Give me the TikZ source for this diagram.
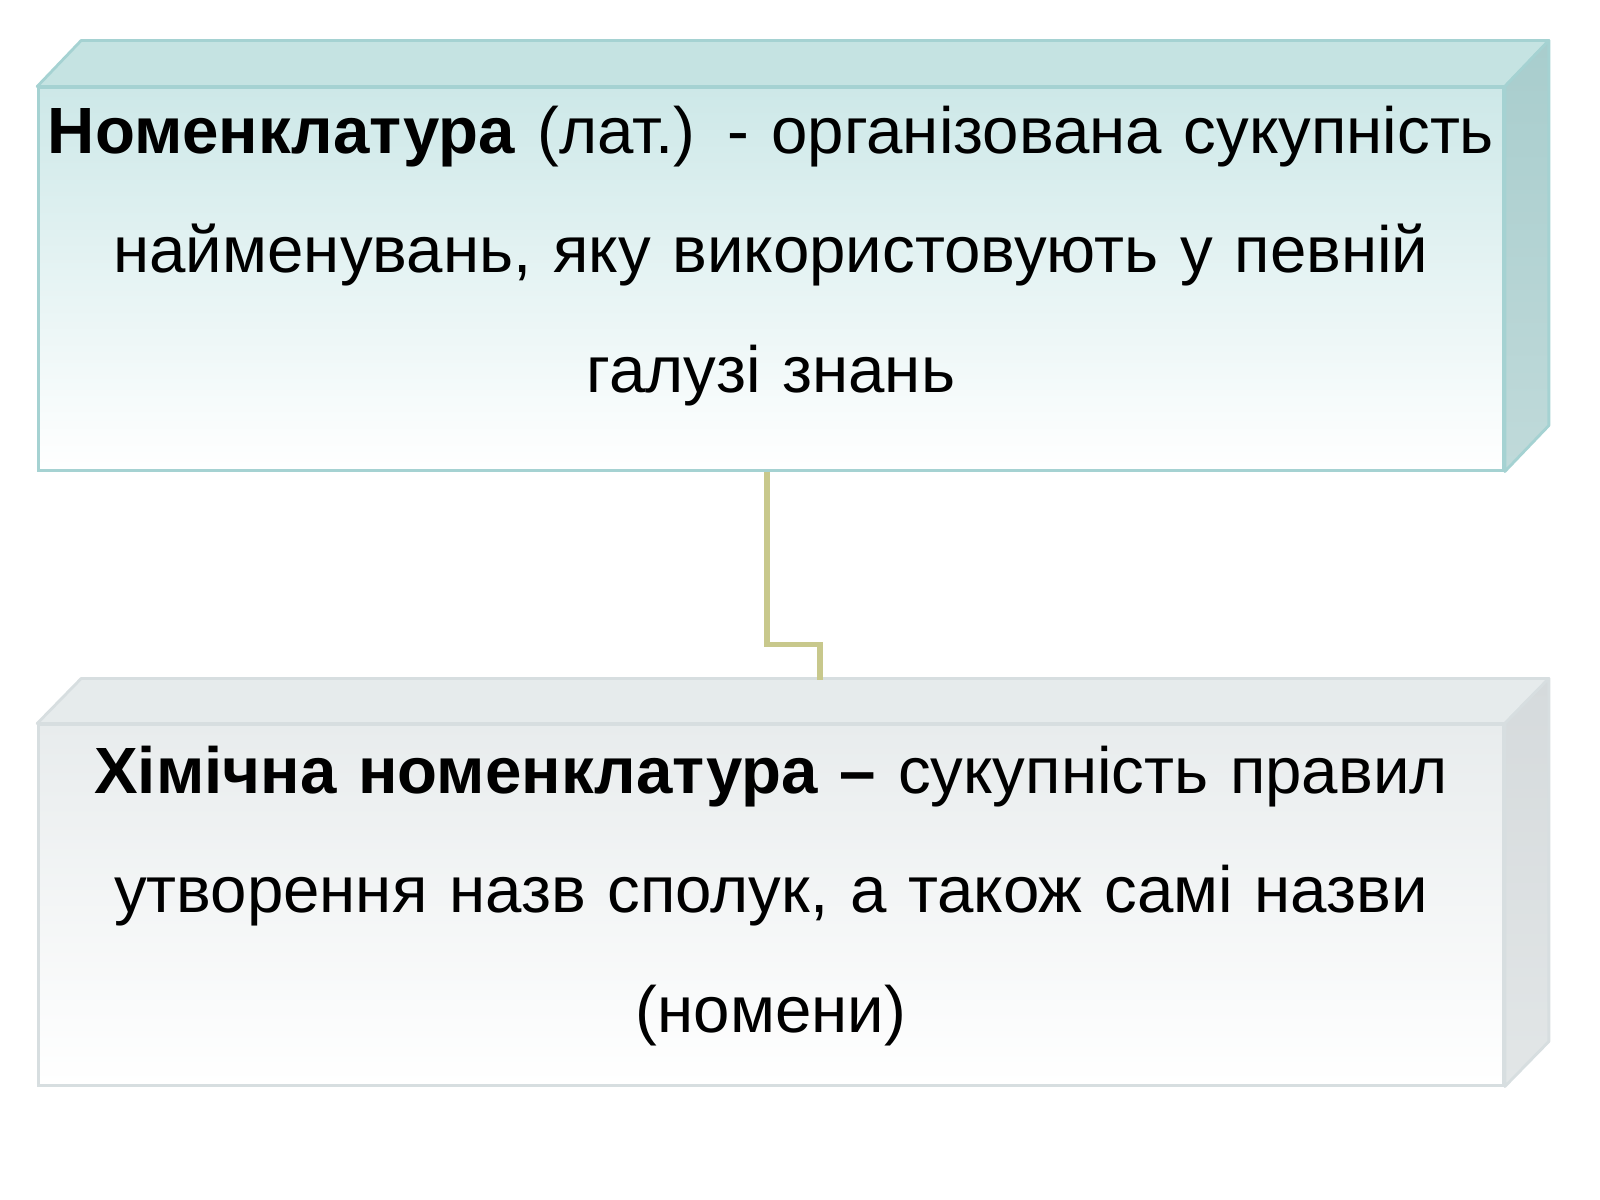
\documentclass[tikz,border=0pt]{standalone}
\usepackage{fontspec}
\setmainfont{Liberation Sans}
\definecolor{tTop}{RGB}{197,227,226}
\definecolor{tSide}{RGB}{168,205,205}
\definecolor{tSideL}{RGB}{192,218,218}
\definecolor{tFront}{RGB}{205,232,232}
\definecolor{tEdge}{RGB}{165,210,210}
\definecolor{gTop}{RGB}{230,235,236}
\definecolor{gSide}{RGB}{213,218,220}
\definecolor{gSideL}{RGB}{226,230,231}
\definecolor{gFront}{RGB}{232,236,237}
\definecolor{gEdge}{RGB}{215,222,224}
\definecolor{linkc}{RGB}{200,200,140}
\begin{document}
\begin{tikzpicture}[x=0.01cm,y=-0.01cm,
  frontface/.style={rectangle, inner sep=0pt, minimum width=14.64cm, line width=0.8pt},
  txt/.style={anchor=base, align=center, text width=15.5cm, inner sep=0pt,
    font=\fontsize{18.6}{34.1}\selectfont},
  linkline/.style={draw=linkc, line width=1.5pt}]
\useasboundingbox (0,0) rectangle (1600,1200);
% ---------- top box ----------
\node[frontface, minimum height=3.82cm, draw=tEdge, top color=tFront, bottom color=white] (box1) at (771,279) {};
\filldraw[fill=tTop, draw=tEdge, line width=0.8pt, line join=round]
  (box1.north west) -- ([shift={(44,-46)}]box1.north west) -- ([shift={(44,-46)}]box1.north east) -- (box1.north east) -- cycle;
\shadedraw[top color=tSide, bottom color=tSideL, draw=tEdge, line width=0.8pt, line join=round]
  (box1.north east) -- ([shift={(44,-46)}]box1.north east) -- ([shift={(44,-46)}]box1.south east) -- (box1.south east) -- cycle;
\node[txt] (t1) at (771,153) {\textbf{Номенклатура} (лат.) - організована сукупність\\
  найменувань, яку використовують у певній\\ галузі знань};
% ---------- bottom box ----------
\node[frontface, minimum height=3.60cm, draw=gEdge, top color=gFront, bottom color=white] (box2) at (771,905) {};
\filldraw[fill=gTop, draw=gEdge, line width=0.8pt, line join=round]
  (box2.north west) -- ([shift={(44,-45)}]box2.north west) -- ([shift={(44,-45)}]box2.north east) -- (box2.north east) -- cycle;
\shadedraw[top color=gSide, bottom color=gSideL, draw=gEdge, line width=0.8pt, line join=round]
  (box2.north east) -- ([shift={(44,-45)}]box2.north east) -- ([shift={(44,-45)}]box2.south east) -- (box2.south east) -- cycle;
\node[txt] (t2) at (771,793) {\textbf{Хімічна номенклатура –} сукупність правил\\
  утворення назв сполук, а також самі назви\\ (номени)};
% ---------- connector ----------
\coordinate (c1) at (767,470);
\coordinate (c2) at (820,680);
\draw[linkline] (box1.south -| c1) -- ++(0,173) -| (c2);
\end{tikzpicture}
\end{document}
